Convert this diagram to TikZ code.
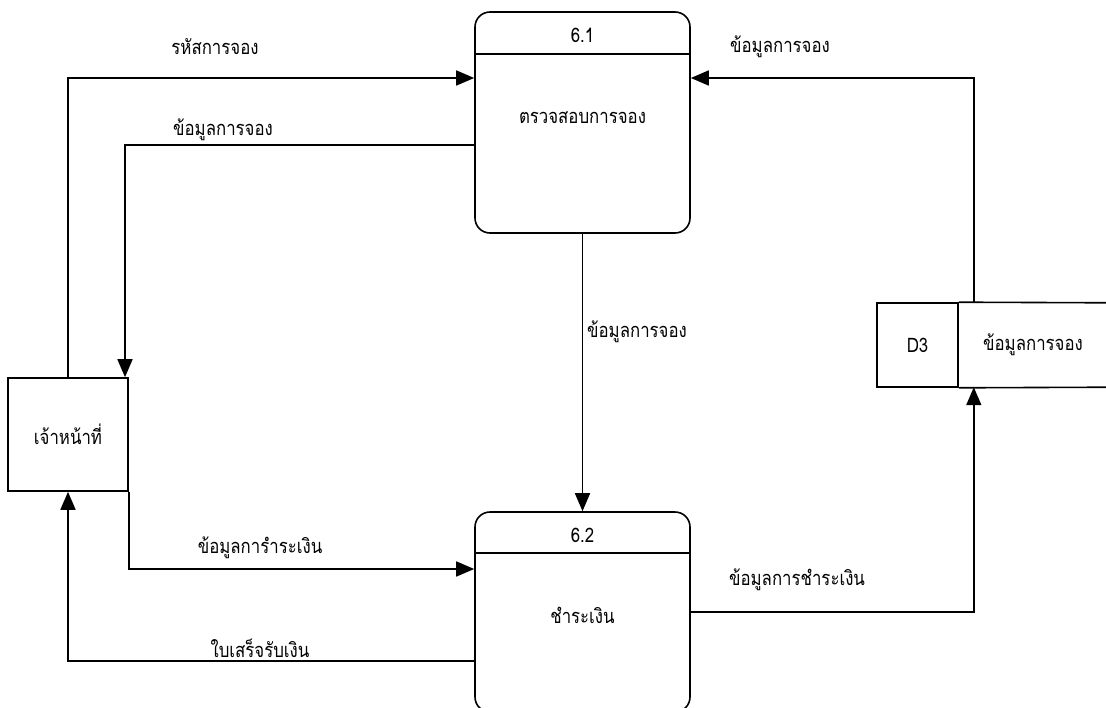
\documentclass[tikz,border=0pt]{standalone}
\usepackage{fontspec}
\setmainfont{Loma}[Script=Thai, FakeStretch=0.84]
\usetikzlibrary{arrows.meta,calc}

\begin{document}
\begin{tikzpicture}[
  x=1pt, y=-1pt,
  font=\fontsize{20}{24}\selectfont,
  proc/.style={draw, line width=1.6pt, rounded corners=15pt, minimum width=215pt, minimum height=221pt, inner sep=0pt},
  ent/.style={draw, line width=1.6pt, minimum width=120pt, minimum height=113pt, inner sep=0pt},
  storeid/.style={draw, line width=1.6pt, minimum width=81pt, minimum height=84pt, inner sep=0pt},
  storename/.style={minimum width=148pt, minimum height=84pt, inner sep=0pt},
  flow/.style={-{Triangle[length=18pt,width=15pt]}, line width=1.6pt},
  line/.style={line width=1.6pt},
  lbl/.style={inner sep=0pt},
]
\useasboundingbox (0,0) rectangle (1106,707);

% --- Processes ---
\node[proc] (p61) at (582.5,122.5) {};
\draw[line] ($(p61.north west)+(0,43)$) -- ($(p61.north east)+(0,43)$);
\node (p61num) at ($(p61.north)+(0,24)$) {6.1};
\node (p61name) at ($(p61.center)+(0,-5)$) {ตรวจสอบการจอง};

\node[proc, minimum height=200pt] (p62) at (582.5,612) {};
\draw[line] ($(p62.north west)+(0,42)$) -- ($(p62.north east)+(0,42)$);
\node (p62num) at ($(p62.north)+(0,24)$) {6.2};
\node (p62name) at ($(p62.center)+(0,3)$) {ชำระเงิน};

% --- External entity ---
\node[ent] (staff) at (68,434.5) {เจ้าหน้าที่};

% --- Data store ---
\node[storeid] (d3) at (917.5,345) {D3};
\node[storename, anchor=west] (dsname) at (d3.east) {ข้อมูลการจอง};
\draw[line] (d3.north east) -- ($(dsname.north east)+(4,0)$);
\draw[line] (d3.south east) -- ($(dsname.south east)+(4,0)$);

% --- Flows ---
\draw[flow] (staff.north) |- ($(p61.west)+(0,-44.5)$);
\draw[flow] ($(p61.west)+(0,22.5)$) -| ($(staff.north)+(57,0)$);
\draw[flow] (p61.south) -- (p62.north);
\draw[flow] ($(dsname.north west)+(15,0)$) |- ($(p61.east)+(0,-44.5)$);
\draw[flow] (p62.east) -| ($(dsname.south west)+(15,0)$);
\draw[flow] (staff.south east) |- ($(p62.west)+(0,-43)$);
\draw[flow] ($(p62.west)+(0,49)$) -| (staff.south);

% --- Flow labels ---
\node[lbl] (l1) at (215,47) {รหัสการจอง};
\node[lbl] (l2) at (223,130) {ข้อมูลการจอง};
\node[lbl] (l3) at (637,332) {ข้อมูลการจอง};
\node[lbl] (l4) at (780,47) {ข้อมูลการจอง};
\node[lbl] (l5) at (797,580) {ข้อมูลการชำระเงิน};
\node[lbl] (l6) at (260,548) {ข้อมูลการำระเงิน};
\node[lbl] (l7) at (260,648) {ใบเสร็จรับเงิน};

\end{tikzpicture}
\end{document}
